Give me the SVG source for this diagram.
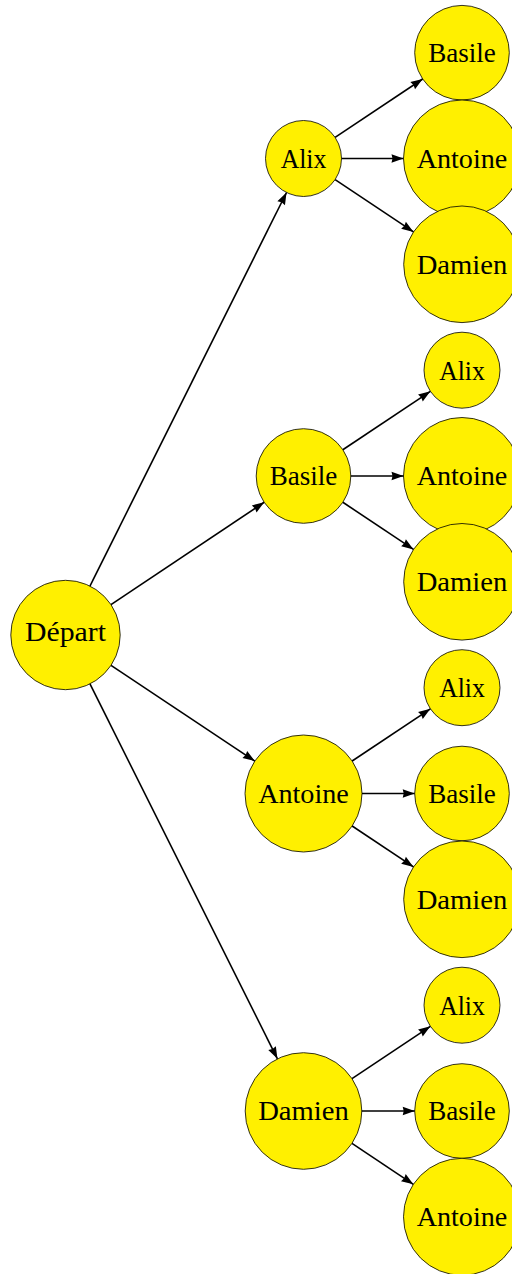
<svg xmlns="http://www.w3.org/2000/svg" width="512" height="1274" viewBox="0 0 512 1274">
<style>
.n circle{fill:#fff000;stroke:#000;stroke-width:0.8}
.n text{font-family:"Liberation Serif","DejaVu Serif",serif;font-size:27px;fill:#000;text-anchor:middle}
#edges line{stroke:#000;stroke-width:1.6;marker-end:url(#ah)}
</style>
<defs>
<marker id="ah" markerUnits="userSpaceOnUse" markerWidth="12" markerHeight="9" refX="12" refY="4.25" orient="auto" overflow="visible">
<path d="M0,0 L12,4.25 L0,8.5 L1,4.25 Z" fill="#000"/>
</marker>
</defs>
<rect width="512" height="1274" fill="#fff"/>
<g id="nodes">
<g id="depart" class="n"><circle cx="65.5" cy="635" r="54.7"/><text x="65.5" y="641.3" textLength="81" lengthAdjust="spacingAndGlyphs">Départ</text></g>

<g id="alix" class="n"><circle cx="303.5" cy="158.5" r="38"/><text x="303.5" y="167.8" textLength="45.7" lengthAdjust="spacingAndGlyphs">Alix</text></g>
<g id="alix-basile" class="n"><circle cx="462" cy="52.7" r="47.3"/><text x="462" y="62" textLength="67.7" lengthAdjust="spacingAndGlyphs">Basile</text></g>
<g id="alix-antoine" class="n"><circle cx="462" cy="158.5" r="58.5"/><text x="462" y="167.8" textLength="90.7" lengthAdjust="spacingAndGlyphs">Antoine</text></g>
<g id="alix-damien" class="n"><circle cx="462" cy="264.3" r="58.3"/><text x="462" y="273.6" textLength="90.7" lengthAdjust="spacingAndGlyphs">Damien</text></g>

<g id="basile" class="n"><circle cx="303.5" cy="476" r="47.3"/><text x="303.5" y="485.3" textLength="67.7" lengthAdjust="spacingAndGlyphs">Basile</text></g>
<g id="basile-alix" class="n"><circle cx="462" cy="370.2" r="38"/><text x="462" y="379.5" textLength="45.7" lengthAdjust="spacingAndGlyphs">Alix</text></g>
<g id="basile-antoine" class="n"><circle cx="462" cy="476" r="58.5"/><text x="462" y="485.3" textLength="90.7" lengthAdjust="spacingAndGlyphs">Antoine</text></g>
<g id="basile-damien" class="n"><circle cx="462" cy="581.8" r="58.3"/><text x="462" y="591.1" textLength="90.7" lengthAdjust="spacingAndGlyphs">Damien</text></g>

<g id="antoine" class="n"><circle cx="303.5" cy="793.5" r="58.5"/><text x="303.5" y="802.8" textLength="90.7" lengthAdjust="spacingAndGlyphs">Antoine</text></g>
<g id="antoine-alix" class="n"><circle cx="462" cy="687.7" r="38"/><text x="462" y="697" textLength="45.7" lengthAdjust="spacingAndGlyphs">Alix</text></g>
<g id="antoine-basile" class="n"><circle cx="462" cy="793.5" r="47.3"/><text x="462" y="802.8" textLength="67.7" lengthAdjust="spacingAndGlyphs">Basile</text></g>
<g id="antoine-damien" class="n"><circle cx="462" cy="899.3" r="58.3"/><text x="462" y="908.6" textLength="90.7" lengthAdjust="spacingAndGlyphs">Damien</text></g>

<g id="damien" class="n"><circle cx="303.5" cy="1111" r="58.3"/><text x="303.5" y="1120.3" textLength="90.7" lengthAdjust="spacingAndGlyphs">Damien</text></g>
<g id="damien-alix" class="n"><circle cx="462" cy="1005.2" r="38"/><text x="462" y="1014.5" textLength="45.7" lengthAdjust="spacingAndGlyphs">Alix</text></g>
<g id="damien-basile" class="n"><circle cx="462" cy="1111" r="47.3"/><text x="462" y="1120.3" textLength="67.7" lengthAdjust="spacingAndGlyphs">Basile</text></g>
<g id="damien-antoine" class="n"><circle cx="462" cy="1216.8" r="58.5"/><text x="462" y="1226.1" textLength="90.7" lengthAdjust="spacingAndGlyphs">Antoine</text></g>
</g>
<g id="edges">
<line x1="89.94" y1="586.06" x2="286.52" y2="192.5"/>
<line x1="110.98" y1="604.61" x2="264.17" y2="502.28"/>
<line x1="111.03" y1="665.32" x2="254.81" y2="761.07"/>
<line x1="89.96" y1="683.93" x2="277.43" y2="1058.85"/>

<line x1="335.11" y1="137.4" x2="422.66" y2="78.96"/>
<line x1="341.5" y1="158.5" x2="403.5" y2="158.5"/>
<line x1="335.11" y1="179.6" x2="413.51" y2="231.93"/>

<line x1="342.84" y1="449.74" x2="430.39" y2="391.3"/>
<line x1="350.8" y1="476" x2="403.5" y2="476"/>
<line x1="342.84" y1="502.26" x2="413.51" y2="549.43"/>

<line x1="352.16" y1="761.02" x2="430.39" y2="708.8"/>
<line x1="362" y1="793.5" x2="414.7" y2="793.5"/>
<line x1="352.16" y1="825.98" x2="413.51" y2="866.93"/>

<line x1="351.99" y1="1078.63" x2="430.39" y2="1026.3"/>
<line x1="361.8" y1="1111" x2="414.7" y2="1111"/>
<line x1="351.99" y1="1143.37" x2="413.34" y2="1184.32"/>
</g>
</svg>
